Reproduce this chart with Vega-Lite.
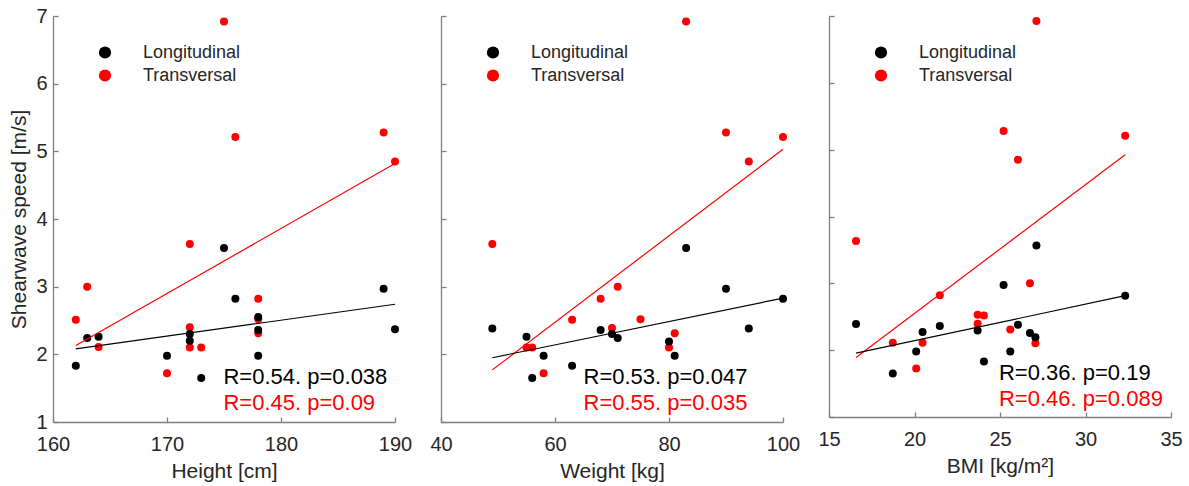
{
  "$schema": "https://vega.github.io/schema/vega-lite/v6.json",
  "padding": {"left": 8, "top": 6, "right": 2, "bottom": 2},
  "bounds": "flush",
  "spacing": 46,
  "datasets": {
    "pts": [
      {"panel": "Height", "dir": "Transversal", "x": 175, "v": 6.92},
      {"panel": "Height", "dir": "Transversal", "x": 176, "v": 5.21},
      {"panel": "Height", "dir": "Transversal", "x": 189, "v": 5.28},
      {"panel": "Height", "dir": "Transversal", "x": 190, "v": 4.85},
      {"panel": "Height", "dir": "Transversal", "x": 172, "v": 3.63},
      {"panel": "Height", "dir": "Transversal", "x": 163, "v": 3.0},
      {"panel": "Height", "dir": "Transversal", "x": 162, "v": 2.51},
      {"panel": "Height", "dir": "Transversal", "x": 164, "v": 2.11},
      {"panel": "Height", "dir": "Transversal", "x": 172, "v": 2.4},
      {"panel": "Height", "dir": "Transversal", "x": 172, "v": 2.1},
      {"panel": "Height", "dir": "Transversal", "x": 173, "v": 2.1},
      {"panel": "Height", "dir": "Transversal", "x": 170, "v": 1.72},
      {"panel": "Height", "dir": "Transversal", "x": 178, "v": 2.82},
      {"panel": "Height", "dir": "Transversal", "x": 178, "v": 2.52},
      {"panel": "Height", "dir": "Transversal", "x": 178, "v": 2.31},
      {"panel": "Height", "dir": "Longitudinal", "x": 162, "v": 1.83},
      {"panel": "Height", "dir": "Longitudinal", "x": 163, "v": 2.24},
      {"panel": "Height", "dir": "Longitudinal", "x": 164, "v": 2.26},
      {"panel": "Height", "dir": "Longitudinal", "x": 170, "v": 1.98},
      {"panel": "Height", "dir": "Longitudinal", "x": 172, "v": 2.3},
      {"panel": "Height", "dir": "Longitudinal", "x": 172, "v": 2.2},
      {"panel": "Height", "dir": "Longitudinal", "x": 173, "v": 1.65},
      {"panel": "Height", "dir": "Longitudinal", "x": 175, "v": 3.57},
      {"panel": "Height", "dir": "Longitudinal", "x": 176, "v": 2.82},
      {"panel": "Height", "dir": "Longitudinal", "x": 178, "v": 2.55},
      {"panel": "Height", "dir": "Longitudinal", "x": 178, "v": 2.36},
      {"panel": "Height", "dir": "Longitudinal", "x": 178, "v": 1.98},
      {"panel": "Height", "dir": "Longitudinal", "x": 189, "v": 2.97},
      {"panel": "Height", "dir": "Longitudinal", "x": 190, "v": 2.37},
      {"panel": "Weight", "dir": "Transversal", "x": 83, "v": 6.92},
      {"panel": "Weight", "dir": "Transversal", "x": 90, "v": 5.28},
      {"panel": "Weight", "dir": "Transversal", "x": 100, "v": 5.21},
      {"panel": "Weight", "dir": "Transversal", "x": 94, "v": 4.85},
      {"panel": "Weight", "dir": "Transversal", "x": 49, "v": 3.63},
      {"panel": "Weight", "dir": "Transversal", "x": 71, "v": 3.0},
      {"panel": "Weight", "dir": "Transversal", "x": 68, "v": 2.82},
      {"panel": "Weight", "dir": "Transversal", "x": 63, "v": 2.51},
      {"panel": "Weight", "dir": "Transversal", "x": 75, "v": 2.52},
      {"panel": "Weight", "dir": "Transversal", "x": 70, "v": 2.39},
      {"panel": "Weight", "dir": "Transversal", "x": 81, "v": 2.31},
      {"panel": "Weight", "dir": "Transversal", "x": 80, "v": 2.1},
      {"panel": "Weight", "dir": "Transversal", "x": 55, "v": 2.1},
      {"panel": "Weight", "dir": "Transversal", "x": 56, "v": 2.1},
      {"panel": "Weight", "dir": "Transversal", "x": 58, "v": 1.72},
      {"panel": "Weight", "dir": "Longitudinal", "x": 49, "v": 2.38},
      {"panel": "Weight", "dir": "Longitudinal", "x": 55, "v": 2.26},
      {"panel": "Weight", "dir": "Longitudinal", "x": 58, "v": 1.98},
      {"panel": "Weight", "dir": "Longitudinal", "x": 56, "v": 1.65},
      {"panel": "Weight", "dir": "Longitudinal", "x": 63, "v": 1.83},
      {"panel": "Weight", "dir": "Longitudinal", "x": 68, "v": 2.36},
      {"panel": "Weight", "dir": "Longitudinal", "x": 70, "v": 2.3},
      {"panel": "Weight", "dir": "Longitudinal", "x": 71, "v": 2.24},
      {"panel": "Weight", "dir": "Longitudinal", "x": 80, "v": 2.19},
      {"panel": "Weight", "dir": "Longitudinal", "x": 81, "v": 1.98},
      {"panel": "Weight", "dir": "Longitudinal", "x": 83, "v": 3.57},
      {"panel": "Weight", "dir": "Longitudinal", "x": 90, "v": 2.97},
      {"panel": "Weight", "dir": "Longitudinal", "x": 94, "v": 2.38},
      {"panel": "Weight", "dir": "Longitudinal", "x": 100, "v": 2.82},
      {"panel": "BMI", "dir": "Transversal", "x": 27.13, "v": 6.925},
      {"panel": "BMI", "dir": "Transversal", "x": 25.21, "v": 5.28},
      {"panel": "BMI", "dir": "Transversal", "x": 32.32, "v": 5.21},
      {"panel": "BMI", "dir": "Transversal", "x": 26.05, "v": 4.85},
      {"panel": "BMI", "dir": "Transversal", "x": 16.58, "v": 3.635},
      {"panel": "BMI", "dir": "Transversal", "x": 21.48, "v": 2.82},
      {"panel": "BMI", "dir": "Transversal", "x": 26.75, "v": 3.0},
      {"panel": "BMI", "dir": "Transversal", "x": 23.69, "v": 2.53},
      {"panel": "BMI", "dir": "Transversal", "x": 24.06, "v": 2.52},
      {"panel": "BMI", "dir": "Transversal", "x": 23.69, "v": 2.395},
      {"panel": "BMI", "dir": "Transversal", "x": 25.6, "v": 2.31},
      {"panel": "BMI", "dir": "Transversal", "x": 18.73, "v": 2.11},
      {"panel": "BMI", "dir": "Transversal", "x": 20.47, "v": 2.11},
      {"panel": "BMI", "dir": "Transversal", "x": 27.07, "v": 2.105},
      {"panel": "BMI", "dir": "Transversal", "x": 20.1, "v": 1.725},
      {"panel": "BMI", "dir": "Longitudinal", "x": 16.58, "v": 2.39},
      {"panel": "BMI", "dir": "Longitudinal", "x": 18.73, "v": 1.65},
      {"panel": "BMI", "dir": "Longitudinal", "x": 20.1, "v": 1.98},
      {"panel": "BMI", "dir": "Longitudinal", "x": 20.47, "v": 2.27},
      {"panel": "BMI", "dir": "Longitudinal", "x": 21.48, "v": 2.36},
      {"panel": "BMI", "dir": "Longitudinal", "x": 23.69, "v": 2.295},
      {"panel": "BMI", "dir": "Longitudinal", "x": 24.06, "v": 1.83},
      {"panel": "BMI", "dir": "Longitudinal", "x": 25.21, "v": 2.975},
      {"panel": "BMI", "dir": "Longitudinal", "x": 25.6, "v": 1.98},
      {"panel": "BMI", "dir": "Longitudinal", "x": 26.05, "v": 2.38},
      {"panel": "BMI", "dir": "Longitudinal", "x": 26.75, "v": 2.255},
      {"panel": "BMI", "dir": "Longitudinal", "x": 27.07, "v": 2.195},
      {"panel": "BMI", "dir": "Longitudinal", "x": 27.13, "v": 3.565},
      {"panel": "BMI", "dir": "Longitudinal", "x": 32.32, "v": 2.815}
    ],
    "fits": [
      {"panel": "Height", "dir": "Transversal", "x": 162, "v": 2.13},
      {"panel": "Height", "dir": "Transversal", "x": 190, "v": 4.82},
      {"panel": "Height", "dir": "Longitudinal", "x": 162, "v": 2.08},
      {"panel": "Height", "dir": "Longitudinal", "x": 190, "v": 2.74},
      {"panel": "Weight", "dir": "Transversal", "x": 49, "v": 1.77},
      {"panel": "Weight", "dir": "Transversal", "x": 100, "v": 5.03},
      {"panel": "Weight", "dir": "Longitudinal", "x": 49, "v": 1.95},
      {"panel": "Weight", "dir": "Longitudinal", "x": 100, "v": 2.83},
      {"panel": "BMI", "dir": "Transversal", "x": 16.58, "v": 1.89},
      {"panel": "BMI", "dir": "Transversal", "x": 32.32, "v": 4.925},
      {"panel": "BMI", "dir": "Longitudinal", "x": 16.58, "v": 1.955},
      {"panel": "BMI", "dir": "Longitudinal", "x": 32.32, "v": 2.815}
    ],
    "stats": [
      {"panel": "Height", "dir": "Longitudinal", "x": 174.95, "v": 1.66, "label": "R=0.54. p=0.038"},
      {"panel": "Height", "dir": "Transversal", "x": 174.95, "v": 1.276, "label": "R=0.45. p=0.09"},
      {"panel": "Weight", "dir": "Longitudinal", "x": 65, "v": 1.66, "label": "R=0.53. p=0.047"},
      {"panel": "Weight", "dir": "Transversal", "x": 65, "v": 1.276, "label": "R=0.55. p=0.035"},
      {"panel": "BMI", "dir": "Longitudinal", "x": 24.94, "v": 1.66, "label": "R=0.36. p=0.19"},
      {"panel": "BMI", "dir": "Transversal", "x": 24.94, "v": 1.275, "label": "R=0.46. p=0.089"}
    ]
  },
  "hconcat": [
    {
      "width": 342, "height": 406,
      "layer": [
        {
          "data": {"name": "pts"},
          "transform": [{"filter": "datum.panel === 'Height'"}],
          "mark": {"type": "point", "filled": true, "size": 64, "opacity": 1},
          "encoding": {
            "x": {"field": "x", "type": "quantitative", "scale": {"domain": [160, 190], "nice": false, "zero": false},
                  "axis": {"values": [160, 170, 180, 190], "title": "Height [cm]"}},
            "y": {"field": "v", "type": "quantitative", "scale": {"domain": [1, 7], "nice": false, "zero": false},
                  "axis": {"values": [1, 2, 3, 4, 5, 6, 7], "format": "d", "title": "Shearwave speed [m/s]", "labelPadding": 11, "titlePadding": 6}},
            "color": {"field": "dir", "type": "nominal", "scale": {"domain": ["Longitudinal", "Transversal"], "range": ["#000000", "#ff0000"]},
                      "legend": {"orient": "none", "legendX": 43, "legendY": 27.5, "title": null, "symbolType": "circle", "symbolSize": 150, "labelFontSize": 18, "labelOffset": 29, "rowPadding": 5, "padding": 0, "labelColor": "#262626", "symbolStrokeWidth": 0}}
          }
        },
        {
          "data": {"name": "fits"},
          "transform": [{"filter": "datum.panel === 'Height'"}],
          "mark": {"type": "line", "strokeWidth": 1.2},
          "encoding": {
            "x": {"field": "x", "type": "quantitative"},
            "y": {"field": "v", "type": "quantitative"},
            "color": {"field": "dir", "type": "nominal", "legend": null}
          }
        },
        {
          "data": {"name": "stats"},
          "transform": [{"filter": "datum.panel === 'Height'"}],
          "mark": {"type": "text", "align": "left", "baseline": "middle", "fontSize": 22},
          "encoding": {
            "x": {"field": "x", "type": "quantitative"},
            "y": {"field": "v", "type": "quantitative"},
            "text": {"field": "label"},
            "color": {"field": "dir", "type": "nominal", "legend": null}
          }
        }
      ]
    },
    {
      "width": 342, "height": 406,
      "layer": [
        {
          "data": {"name": "pts"},
          "transform": [{"filter": "datum.panel === 'Weight'"}],
          "mark": {"type": "point", "filled": true, "size": 64, "opacity": 1},
          "encoding": {
            "x": {"field": "x", "type": "quantitative", "scale": {"domain": [40, 100], "nice": false, "zero": false},
                  "axis": {"values": [40, 60, 80, 100], "title": "Weight [kg]"}},
            "y": {"field": "v", "type": "quantitative", "scale": {"domain": [1, 7], "nice": false, "zero": false},
                  "axis": {"values": [1, 2, 3, 4, 5, 6, 7], "title": null, "labels": false}},
            "color": {"field": "dir", "type": "nominal", "scale": {"domain": ["Longitudinal", "Transversal"], "range": ["#000000", "#ff0000"]},
                      "legend": {"orient": "none", "legendX": 43, "legendY": 27.5, "title": null, "symbolType": "circle", "symbolSize": 150, "labelFontSize": 18, "labelOffset": 29, "rowPadding": 5, "padding": 0, "labelColor": "#262626", "symbolStrokeWidth": 0}}
          }
        },
        {
          "data": {"name": "fits"},
          "transform": [{"filter": "datum.panel === 'Weight'"}],
          "mark": {"type": "line", "strokeWidth": 1.2},
          "encoding": {
            "x": {"field": "x", "type": "quantitative"},
            "y": {"field": "v", "type": "quantitative"},
            "color": {"field": "dir", "type": "nominal", "legend": null}
          }
        },
        {
          "data": {"name": "stats"},
          "transform": [{"filter": "datum.panel === 'Weight'"}],
          "mark": {"type": "text", "align": "left", "baseline": "middle", "fontSize": 22},
          "encoding": {
            "x": {"field": "x", "type": "quantitative"},
            "y": {"field": "v", "type": "quantitative"},
            "text": {"field": "label"},
            "color": {"field": "dir", "type": "nominal", "legend": null}
          }
        }
      ]
    },
    {
      "width": 342, "height": 401,
      "layer": [
        {
          "data": {"name": "pts"},
          "transform": [{"filter": "datum.panel === 'BMI'"}],
          "mark": {"type": "point", "filled": true, "size": 64, "opacity": 1},
          "encoding": {
            "x": {"field": "x", "type": "quantitative", "scale": {"domain": [15, 35], "nice": false, "zero": false},
                  "axis": {"values": [15, 20, 25, 30, 35], "title": "BMI [kg/m²]"}},
            "y": {"field": "v", "type": "quantitative", "scale": {"domain": [1, 7], "nice": false, "zero": false},
                  "axis": {"values": [1, 2, 3, 4, 5, 6, 7], "title": null, "labels": false}},
            "color": {"field": "dir", "type": "nominal", "scale": {"domain": ["Longitudinal", "Transversal"], "range": ["#000000", "#ff0000"]},
                      "legend": {"orient": "none", "legendX": 43, "legendY": 27.5, "title": null, "symbolType": "circle", "symbolSize": 150, "labelFontSize": 18, "labelOffset": 29, "rowPadding": 5, "padding": 0, "labelColor": "#262626", "symbolStrokeWidth": 0}}
          }
        },
        {
          "data": {"name": "fits"},
          "transform": [{"filter": "datum.panel === 'BMI'"}],
          "mark": {"type": "line", "strokeWidth": 1.2},
          "encoding": {
            "x": {"field": "x", "type": "quantitative"},
            "y": {"field": "v", "type": "quantitative"},
            "color": {"field": "dir", "type": "nominal", "legend": null}
          }
        },
        {
          "data": {"name": "stats"},
          "transform": [{"filter": "datum.panel === 'BMI'"}],
          "mark": {"type": "text", "align": "left", "baseline": "middle", "fontSize": 22},
          "encoding": {
            "x": {"field": "x", "type": "quantitative"},
            "y": {"field": "v", "type": "quantitative"},
            "text": {"field": "label"},
            "color": {"field": "dir", "type": "nominal", "legend": null}
          }
        }
      ]
    }
  ],
  "resolve": {"legend": {"color": "independent"}},
  "config": {
    "font": "Liberation Sans",
    "view": {"stroke": null},
    "axis": {
      "grid": false,
      "domainColor": "#7f7f7f",
      "tickColor": "#7f7f7f",
      "domainWidth": 1.3,
      "tickWidth": 1.3,
      "tickSize": -5,
      "labelColor": "#262626",
      "titleColor": "#262626",
      "labelFontSize": 20,
      "titleFontSize": 21,
      "titleFontWeight": "normal",
      "labelFlush": false,
      "labelOverlap": false
    },
    "axisX": {"labelPadding": 17, "titlePadding": 6},
    "legend": {"labelFont": "Liberation Sans"}
  }
}
